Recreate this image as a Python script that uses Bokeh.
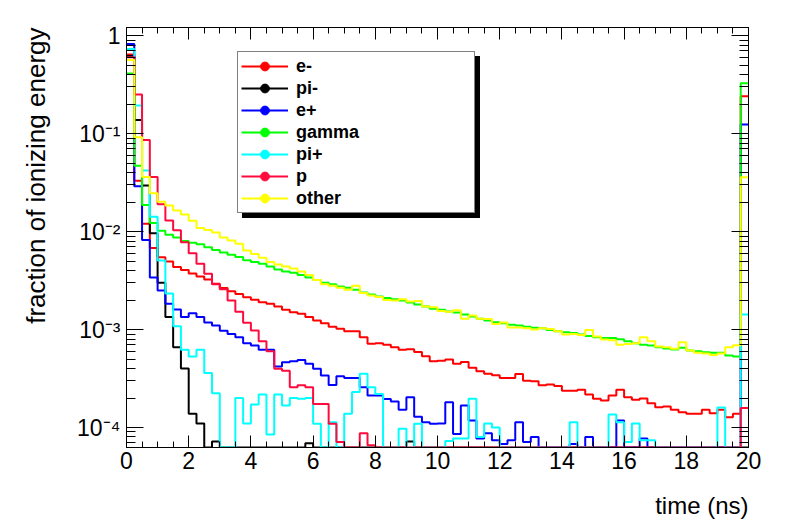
import numpy as np
from bokeh.plotting import figure
from bokeh.models import (Range1d, LogAxis, LinearAxis, FixedTicker, SingleIntervalTicker,
                          CustomJSTickFormatter, Legend, LegendItem, Title, ColumnDataSource)
from bokeh.embed import file_html
from bokeh.resources import INLINE

# ---- binning (ns) ----
T_MIN, T_MAX, N_BINS = 0.0, 20.0, 80

# ---- data: fraction of ionizing energy per 0.25 ns bin ----
e_minus = [0.64, 0.033, 0.012, 0.0068, 5.47e-3, 4.94e-3, 4.34e-3, 4.05e-3, 3.73e-3, 3.47e-3,
           3.24e-3, 2.94e-3, 2.65e-3, 2.46e-3, 2.31e-3, 2.14e-3, 2.01e-3, 1.9e-3, 1.83e-3, 1.72e-3,
           1.59e-3, 1.5e-3, 1.45e-3, 1.34e-3, 1.24e-3, 1.16e-3, 1.07e-3, 1.02e-3, 9.6e-4, 9.6e-4,
           8.35e-4, 7.15e-4, 7.25e-4, 7.0e-4, 6.6e-4, 6.2e-4, 6.3e-4, 5.9e-4, 5.35e-4, 4.75e-4,
           4.8e-4, 4.95e-4, 4.47e-4, 4.65e-4, 4.08e-4, 3.75e-4, 3.53e-4, 3.41e-4, 3.2e-4, 3.2e-4,
           3.52e-4, 3.0e-4, 2.97e-4, 2.7e-4, 2.75e-4, 2.65e-4, 2.37e-4, 2.37e-4, 2.43e-4, 2.17e-4,
           1.96e-4, 1.89e-4, 2.12e-4, 2.43e-4, 2.04e-4, 1.92e-4, 1.98e-4, 1.77e-4, 1.61e-4, 1.64e-4,
           1.52e-4, 1.43e-4, 1.38e-4, 1.38e-4, 1.52e-4, 1.4e-4, 1.52e-4, 1.27e-4, 1.38e-4, 0.24]
pi_minus = [0.62, 0.138, 0.0295, 0.0096, 3.0e-3, 1.34e-3, 6.6e-4, 4.0e-4, 1.38e-4, 1.1e-4,
            0, 7.2e-5, 0, 0, 0, 0, 0, 0, 0, 0,
            0, 0, 0, 6.9e-5, 0, 0, 0, 0, 0, 0,
            0, 0, 0, 0, 0, 0, 7.2e-5, 0, 0, 0,
            0, 0, 0, 0, 0, 0, 0, 0, 0, 0,
            0, 0, 0, 0, 0, 0, 0, 0, 0, 0,
            0, 0, 0, 0, 0, 0, 0, 0, 0, 0,
            0, 0, 0, 0, 0, 0, 0, 0, 0, 0]
e_plus = [0.82, 0.029, 0.0082, 3.4e-3, 2.5e-3, 1.83e-3, 1.6e-3, 1.34e-3, 1.47e-3, 1.34e-3,
          1.18e-3, 1.1e-3, 9.7e-4, 9.0e-4, 8.35e-4, 7.25e-4, 6.87e-4, 6.2e-4, 6.2e-4, 4.2e-4,
          4.64e-4, 4.75e-4, 4.9e-4, 4.47e-4, 3.97e-4, 3.4e-4, 2.72e-4, 3.33e-4, 3.21e-4, 3.2e-4,
          2.58e-4, 2.12e-4, 2.12e-4, 1.95e-4, 1.84e-4, 1.52e-4, 2.04e-4, 1.29e-4, 1.13e-4, 1.09e-4,
          1.1e-4, 1.81e-4, 8.6e-5, 1.68e-4, 1.18e-4, 7.7e-5, 8.75e-5, 7.4e-5, 6.8e-5, 7.4e-5,
          1.13e-4, 7.1e-5, 8.0e-5, 0, 0, 0, 0, 6.8e-5, 0, 8.0e-5,
          0, 0, 0, 1.18e-4, 0, 0, 7.7e-5, 0, 0, 0,
          0, 0, 0, 0, 0, 0, 0, 0, 0, 0.124]
gamma = [0.41, 0.047, 0.0187, 0.0122, 0.0102, 0.0093, 0.0087, 0.0080, 0.0077, 0.0074,
         0.0069, 0.0065, 0.0061, 0.0058, 0.0055, 0.0051, 0.0049, 0.0047, 0.0044, 0.0041,
         0.0039, 0.0038, 0.0036, 0.0034, 0.0032, 0.0030, 0.0029, 2.75e-3, 2.67e-3, 2.54e-3,
         2.39e-3, 2.28e-3, 2.17e-3, 2.10e-3, 2.04e-3, 1.98e-3, 1.89e-3, 1.80e-3, 1.72e-3, 1.63e-3,
         1.59e-3, 1.53e-3, 1.49e-3, 1.42e-3, 1.36e-3, 1.29e-3, 1.24e-3, 1.19e-3, 1.16e-3, 1.12e-3,
         1.10e-3, 1.07e-3, 1.04e-3, 1.03e-3, 9.9e-4, 9.6e-4, 9.4e-4, 9.2e-4, 8.9e-4, 8.6e-4,
         8.35e-4, 8.2e-4, 8.2e-4, 7.96e-4, 7.6e-4, 7.25e-4, 7.0e-4, 6.87e-4, 6.6e-4, 6.4e-4,
         6.25e-4, 6.5e-4, 6.1e-4, 6.0e-4, 5.86e-4, 5.8e-4, 5.8e-4, 5.43e-4, 5.3e-4, 0.326]
pi_plus = [0.73, 0.193, 0.042, 0.0142, 5.06e-3, 2.33e-3, 1.08e-3, 6.2e-4, 5.3e-4, 6.2e-4,
           3.6e-4, 2.24e-4, 0, 0, 2.0e-4, 1.1e-4, 1.72e-4, 2.17e-4, 8.5e-5, 2.17e-4,
           1.68e-4, 2.0e-4, 1.96e-4, 2.0e-4, 1.09e-4, 0, 1.13e-4, 0, 1.38e-4, 2.3e-4,
           3.53e-4, 2.58e-4, 2.2e-4, 0, 0, 9.7e-5, 0, 1.09e-4, 0, 0,
           0, 7.3e-5, 7.7e-5, 7.7e-5, 1.96e-4, 8.0e-5, 1.1e-4, 1.0e-4, 0, 0,
           0, 0, 0, 0, 0, 0, 0, 1.13e-4, 0, 0,
           0, 0, 1.36e-4, 1.13e-4, 7.1e-5, 1.1e-4, 7.4e-5, 7.4e-5, 0, 0,
           0, 0, 0, 0, 0, 0, 1.6e-4, 0, 0, 1.42e-3]
proton = [0.6, 0.25, 0.086, 0.036, 0.019, 0.0130, 0.0103, 7.8e-3, 6.0e-3, 4.7e-3,
          3.7e-3, 2.9e-3, 2.57e-3, 1.98e-3, 1.52e-3, 1.17e-3, 9.8e-4, 7.6e-4, 6.0e-4, 3.97e-4,
          3.8e-4, 2.58e-4, 2.7e-4, 2.58e-4, 1.74e-4, 1.74e-4, 1.09e-4, 7.1e-5, 0, 0,
          8.75e-5, 6.6e-5, 0, 0, 0, 0, 0, 0, 0, 0,
          0, 0, 0, 0, 0, 0, 0, 0, 0, 0,
          0, 0, 0, 0, 0, 0, 0, 0, 0, 0,
          0, 0, 0, 0, 0, 0, 0, 0, 0, 0,
          0, 0, 0, 0, 0, 0, 0, 0, 0, 1.58e-4]
other = [0.565, 0.092, 0.036, 0.0246, 0.0202, 0.0184, 0.0164, 0.0149, 0.0129, 0.0109,
         0.0104, 0.0098, 0.0087, 0.0081, 0.0075, 0.0064, 0.0059, 0.0054, 0.0049, 0.0046,
         0.0044, 0.0042, 0.0039, 0.0036, 0.0032, 0.0029, 0.0028, 2.67e-3, 2.54e-3, 2.8e-3,
         2.36e-3, 2.23e-3, 2.15e-3, 2.0e-3, 1.98e-3, 2.04e-3, 1.93e-3, 1.96e-3, 1.72e-3, 1.69e-3,
         1.55e-3, 1.52e-3, 1.57e-3, 1.29e-3, 1.39e-3, 1.29e-3, 1.28e-3, 1.14e-3, 1.18e-3, 1.05e-3,
         1.05e-3, 1.03e-3, 1.0e-3, 1.03e-3, 1.01e-3, 9.6e-4, 8.9e-4, 9.0e-4, 8.8e-4, 9.9e-4,
         8.5e-4, 7.9e-4, 7.75e-4, 7.0e-4, 7.1e-4, 7.25e-4, 8.35e-4, 7.6e-4, 6.7e-4, 6.6e-4,
         6.35e-4, 7.4e-4, 6.1e-4, 5.8e-4, 5.7e-4, 5.5e-4, 5.7e-4, 6.6e-4, 6.9e-4, 0.0358]

names = ["e-", "pi-", "e+", "gamma", "pi+", "p", "other"]
series = [e_minus, pi_minus, e_plus, gamma, pi_plus, proton, other]
colors = ["#ff0000", "#000000", "#0000ff", "#00ff00", "#00ffff", "#ff0a3c", "#ffff00"]

Y_MIN, Y_MAX = 6.25e-5, 1.21
FONT = "Liberation Sans"

p = figure(frame_width=622, frame_height=420,
           x_range=Range1d(T_MIN, T_MAX), y_range=Range1d(Y_MIN, Y_MAX),
           y_axis_type="log", output_backend="svg", toolbar_location=None,
           min_border_left=126, min_border_right=24, min_border_top=27, min_border_bottom=69,
           background_fill_color="white", border_fill_color="white")
p.grid.visible = False
p.outline_line_color = "black"
p.outline_line_width = 1
# off-screen x range: the legend-symbol markers map outside the frame and are clipped
p.extra_x_ranges = {"legend_only": Range1d(T_MAX + 100.0, T_MAX + 200.0)}

edges = np.linspace(T_MIN, T_MAX, N_BINS + 1)
centers = 0.5 * (edges[:-1] + edges[1:])
line_renderers = []
marker_renderers = []
for vals, col in zip(series, colors):
    v = np.asarray(vals, dtype=float)
    v = np.where(v > 0, v, Y_MIN)
    yy = np.append(v, v[-1])
    r = p.step(x=edges, y=yy, mode="after", line_color=col, line_width=2)
    line_renderers.append(r)
    src = ColumnDataSource(dict(x=centers, y=v))
    m = p.scatter(x="x", y="y", source=src, marker="circle", size=10, color=col,
                  x_range_name="legend_only")
    marker_renderers.append(m)

# ---- axes ----
fmt_code = """
const e = Math.round(Math.log10(tick));
if (e === 0) { return "1"; }
const m = {"-": "\u207b", "0": "\u2070", "1": "\u00b9", "2": "\u00b2", "3": "\u00b3",
           "4": "\u2074", "5": "\u2075", "6": "\u2076"};
return "10" + String(e).split("").map(c => m[c]).join("");
"""
y_major = [1e-4, 1e-3, 1e-2, 1e-1, 1.0]
y_minor = [k * 10.0 ** e for e in range(-5, 1) for k in range(2, 10)]

def style_axis(ax, tick_major, tick_minor):
    ax.axis_line_color = "black"
    ax.axis_line_width = 1
    ax.major_tick_line_color = "black"
    ax.minor_tick_line_color = "black"
    ax.major_tick_in = tick_major
    ax.major_tick_out = 0
    ax.minor_tick_in = tick_minor
    ax.minor_tick_out = 0
    ax.major_label_text_font = FONT
    ax.major_label_text_font_size = "23px"
    ax.major_label_text_color = "black"

xa = p.xaxis[0]
xa.ticker = SingleIntervalTicker(interval=2, num_minor_ticks=4)
style_axis(xa, 12, 6)
xa.major_label_standoff = 4
# blank axis label used only as spacing before the right-aligned title
xa.axis_label = " "
xa.axis_label_standoff = 0
xa.axis_label_text_font_size = "9px"

ya = p.yaxis[0]
ya.ticker = FixedTicker(ticks=y_major, minor_ticks=y_minor)
ya.formatter = CustomJSTickFormatter(code=fmt_code)
style_axis(ya, 17, 9)
ya.major_label_standoff = 6
ya.axis_label = " "
ya.axis_label_standoff = 0
ya.axis_label_text_font_size = "14px"

blank = CustomJSTickFormatter(code="return '';")
xt = LinearAxis(ticker=SingleIntervalTicker(interval=2, num_minor_ticks=4), formatter=blank,
                major_label_standoff=0)
style_axis(xt, 12, 6)
p.add_layout(xt, "above")
yr = LogAxis(ticker=FixedTicker(ticks=y_major, minor_ticks=y_minor), formatter=blank,
             major_label_standoff=0)
style_axis(yr, 17, 9)
p.add_layout(yr, "right")

p.add_layout(Title(text="time (ns)", align="right", text_font=FONT, text_font_size="24px",
                   text_font_style="normal", text_color="black"), "below")
p.add_layout(Title(text="fraction of ionizing energy", align="right", text_font=FONT,
                   text_font_size="26px", text_font_style="normal", text_color="black"), "left")

# ---- legend with shadow ----
LEG_X, LEG_Y = 111, 234
leg_kw = dict(glyph_width=47, glyph_height=22, label_height=22, label_width=175,
              label_standoff=8, spacing=0, padding=3, margin=0,
              label_text_font=FONT, label_text_font_style="bold", label_text_font_size="18px",
              border_line_color="black", border_line_width=1)

shadow_line = p.line(x=[], y=[], line_color="black", line_width=2)
shadow = Legend(items=[LegendItem(label=" ", renderers=[shadow_line]) for _ in names],
                location=(LEG_X + 5, LEG_Y - 5), background_fill_color="black",
                background_fill_alpha=1.0, label_text_color="black", **leg_kw)
p.add_layout(shadow)

items = [LegendItem(label=nm, renderers=[r, m])
         for nm, r, m in zip(names, line_renderers, marker_renderers)]
legend = Legend(items=items, location=(LEG_X, LEG_Y), background_fill_color="white",
                background_fill_alpha=1.0, label_text_color="black", **leg_kw)
p.add_layout(legend)

open("out.html", "w").write(file_html(p, INLINE))
